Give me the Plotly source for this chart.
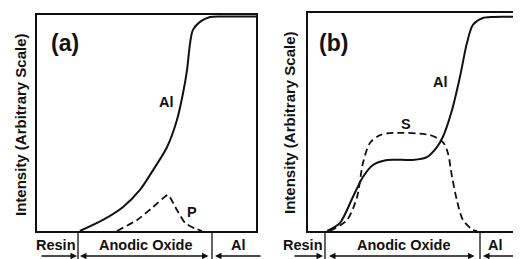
import plotly.graph_objects as go

# The page places the figure 8 px from the top-left corner (default body margin),
# so the figure is sized and positioned to compensate.
OFF = 8
W, H = 521 - OFF, 259 - OFF

# ---- data (depth in arbitrary units 0-100, intensity in arbitrary units 0-100)
a_al_x = [19.6, 30.1, 39.3, 47.0, 53.0, 59.4, 63.9, 66.7, 68.5, 69.9, 71.2, 74.4, 79.0, 86.8, 100.0]
a_al_y = [0.0, 5.1, 11.1, 19.0, 28.2, 38.9, 51.4, 63.9, 74.5, 87.0, 93.1, 96.8, 99.1, 99.3, 99.3]

a_p_x = [36.5, 45.7, 53.0, 59.8, 63.9, 67.6, 72.1, 75.3]
a_p_y = [0.0, 5.1, 11.1, 16.7, 9.7, 3.7, 1.2, 0.0]

b_al_x = [8.7, 14.6, 20.5, 25.1, 29.7, 36.1, 47.9, 54.3, 58.9, 61.6, 65.8, 69.4, 72.6, 75.3, 79.9, 84.5, 97.3]
b_al_y = [0.0, 3.7, 15.6, 24.8, 30.3, 32.6, 32.6, 33.9, 38.5, 43.1, 55.5, 70.6, 86.2, 94.5, 97.7, 98.2, 98.2]

b_s_x = [10.0, 17.8, 22.4, 25.1, 28.3, 32.9, 38.8, 55.7, 61.6, 63.9, 65.8, 68.0, 70.8, 75.3, 77.2]
b_s_y = [0.0, 5.0, 15.6, 31.2, 40.4, 44.0, 45.0, 44.0, 40.8, 35.8, 24.8, 14.2, 5.0, 0.5, 0.0]

regions = ["Resin", "Anodic Oxide", "Al"]
y_title = "Intensity (Arbitrary Scale)"
panel_tags = ["(a)", "(b)"]


def px(x):
    return (x - OFF) / W


def py(y):
    return 1 - (y - OFF) / H


FONT = "Liberation Sans, Arial, sans-serif"
BLACK = "#111111"
DASH = "7px,4px"

fig = go.Figure()

fig.add_trace(go.Scatter(x=a_al_x, y=a_al_y, mode="lines", xaxis="x", yaxis="y",
                         line=dict(color=BLACK, width=2, shape="spline", smoothing=0.8),
                         showlegend=False, hoverinfo="skip"))
fig.add_trace(go.Scatter(x=a_p_x, y=a_p_y, mode="lines", xaxis="x", yaxis="y",
                         line=dict(color=BLACK, width=1.8, dash=DASH, shape="spline", smoothing=0.4),
                         showlegend=False, hoverinfo="skip"))
fig.add_trace(go.Scatter(x=b_al_x, y=b_al_y, mode="lines", xaxis="x2", yaxis="y2",
                         line=dict(color=BLACK, width=2, shape="spline", smoothing=0.8),
                         showlegend=False, hoverinfo="skip"))
fig.add_trace(go.Scatter(x=b_s_x, y=b_s_y, mode="lines", xaxis="x2", yaxis="y2",
                         line=dict(color=BLACK, width=1.8, dash=DASH, shape="spline", smoothing=0.8),
                         showlegend=False, hoverinfo="skip"))

ax_common = dict(showticklabels=False, ticks="", showgrid=False, zeroline=False,
                 showline=True, linecolor=BLACK, linewidth=2, fixedrange=True)

fig.update_layout(
    width=W, height=H, autosize=False,
    margin=dict(l=0, r=0, t=0, b=0),
    paper_bgcolor="white", plot_bgcolor="white",
    xaxis=dict(domain=[px(37), px(256)], range=[0, 100], mirror=True, anchor="y", **ax_common),
    yaxis=dict(domain=[py(231), py(15)], range=[0, 100], mirror=True, anchor="x", **ax_common),
    xaxis2=dict(domain=[px(308), 1.0], range=[0, 97.3], mirror=True, anchor="y2", **ax_common),
    yaxis2=dict(domain=[py(231), py(13)], range=[0, 100], mirror=False, anchor="x2", **ax_common),
)

anns = []


def label(text, xc, yc, size, angle=0):
    return dict(x=px(xc), y=py(yc), xref="paper", yref="paper", text="<b>%s</b>" % text,
                textangle=angle, showarrow=False, xanchor="center", yanchor="middle",
                font=dict(family=FONT, size=size, color=BLACK))


# y titles
for xc, yc in [(20, 125), (289, 123)]:
    anns.append(label(y_title, xc, yc, 15, -90))

# panel tags
for t, xc in zip(panel_tags, [65, 333]):
    anns.append(label(t, xc, 43, 23))

# curve labels
for t, xc, yc in [("Al", 166, 102), ("P", 192, 212), ("Al", 440, 82), ("S", 406, 124)]:
    anns.append(label(t, xc, yc, 14.5))

# region labels
for centers in [(56, 145, 238), (303, 403, 495)]:
    for t, xc in zip(regions, centers):
        anns.append(label(t, xc, 245, 14.5))

# arrows: (tail_x, head_x, double?)
arrow_y = 256
for tail, head, both in [(40, 77, False), (210, 80, True), (262, 215, False),
                         (293, 323, False), (476, 329, True), (521, 483, False)]:
    anns.append(dict(x=px(head), y=py(arrow_y), xref="paper", yref="paper",
                     ax=tail - head, ay=0, axref="pixel", ayref="pixel", text="",
                     showarrow=True, arrowhead=2, arrowsize=1, arrowwidth=1.3,
                     arrowcolor=BLACK, arrowside="end+start" if both else "end"))

fig.update_layout(annotations=anns)

# region dividers
shapes = []
for xd in [78, 212, 325, 480]:
    shapes.append(dict(type="line", xref="paper", yref="paper", x0=px(xd), x1=px(xd),
                       y0=py(231), y1=0, line=dict(color=BLACK, width=1.3)))
fig.update_layout(shapes=shapes)

fig.write_html("out.html")
